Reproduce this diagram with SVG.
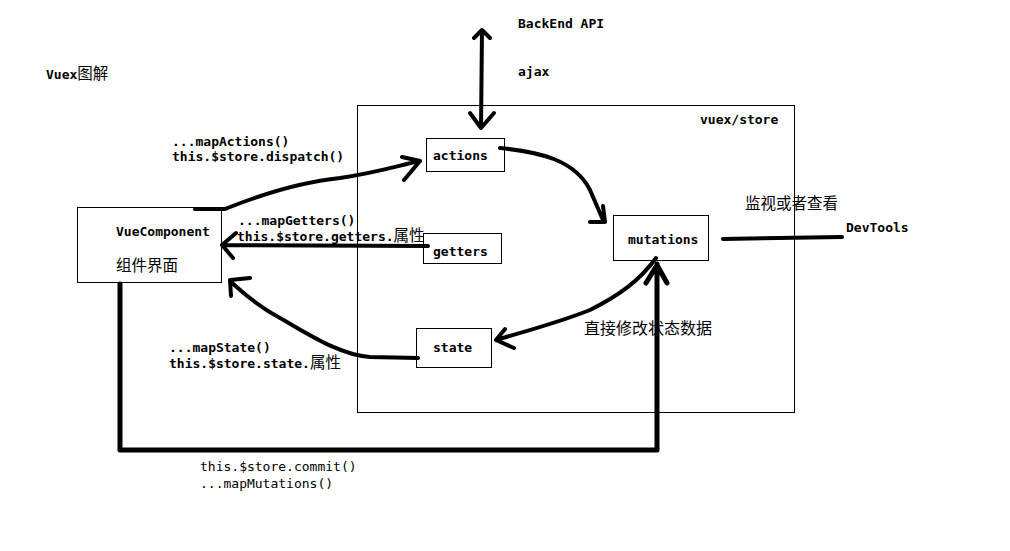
<svg xmlns="http://www.w3.org/2000/svg" width="1010" height="551" viewBox="0 0 1010 551">
<style>
.t{font-family:"DejaVu Sans Mono","Liberation Mono",monospace;font-size:13px;font-weight:bold;fill:#000}
.n{font-family:"DejaVu Sans Mono","Liberation Mono",monospace;font-size:13px;fill:#000}
.c{font-family:"Noto Sans CJK SC","Noto Sans",sans-serif;font-size:15.5px;fill:#000}
.box{fill:#fff;stroke:#000;stroke-width:1}
.ln{fill:none;stroke:#000;stroke-width:4;stroke-linecap:round;stroke-linejoin:round}
.thick{fill:none;stroke:#000;stroke-width:5;stroke-linecap:round;stroke-linejoin:round}
</style>
<rect width="1010" height="551" fill="#fff"/>
<text class="t" x="46" y="79">Vuex<tspan class="c" style="font-weight:normal">图解</tspan></text>
<rect class="box" x="357.500" y="105.500" width="437" height="307"/>
<text class="t" x="700" y="124">vuex/store</text>
<text class="t" x="518" y="28">BackEnd API</text>
<text class="t" x="518" y="76">ajax</text>
<g id="actions"><rect class="box" x="426.500" y="138.500" width="78" height="33"/><text class="t" x="433" y="160">actions</text></g>
<g id="mutations"><rect class="box" x="613.500" y="215.500" width="95" height="45"/><text class="t" x="628" y="244">mutations</text></g>
<g id="getters"><rect class="box" x="423.500" y="233.500" width="78" height="30"/><text class="t" x="433" y="256">getters</text></g>
<g id="state"><rect class="box" x="416.500" y="328.500" width="75" height="39"/><text class="t" x="433" y="352">state</text></g>
<g id="vuecomponent"><rect class="box" x="77.500" y="207.500" width="144" height="75"/><text class="t" x="116" y="236">VueComponent</text><text class="c" x="116" y="271">组件界面</text></g>
<g id="devtools"><text class="t" x="846" y="232">DevTools</text></g>
<g id="connectors">
<path class="ln" d="M482 30 L481 128 M474 38 L482 30 L490 38 M470 113 L481 128 L494 113"/>
<path class="ln" d="M500 148 C540 152 575 160 590 190 L603 220 M590 222 L605 222 L603 206"/>
<path class="ln" d="M723 239 L842 237"/>
<path class="ln" d="M195 209 L225 209 C260 195 300 182 340 178 C380 172 400 165 420 161 M402 157 L420 161 L404 180"/>
<path class="ln" d="M428 246 L222 245 M236 233 L222 245 L233 258"/>
<path class="ln" d="M418 358 L370 357 C340 355 310 335 280 318 C255 305 240 290 230 281 M250 278 L230 280 L231 296"/>
<path class="ln" d="M656 258 C640 280 620 295 590 310 C560 322 530 330 496 340 M505 329 L496 340 L514 348"/>
<path class="thick" d="M120 284 L120 450 L657 450 L657 264 M646 283 L657 265 L667 283"/>
</g>
<text class="t" x="172" y="146">...mapActions()</text>
<text class="t" x="172" y="161">this.$store.dispatch()</text>
<text class="t" x="238" y="225">...mapGetters()</text>
<text class="t" x="237" y="241">this.$store.getters.<tspan class="c" style="font-weight:normal">属性</tspan></text>
<text class="t" x="169" y="352">...mapState()</text>
<text class="t" x="169" y="368">this.$store.state.<tspan class="c" style="font-weight:normal">属性</tspan></text>
<text class="c" x="584" y="334" style="font-size:16px">直接修改状态数据</text>
<text class="c" x="745" y="209">监视或者查看</text>
<text class="n" x="200" y="471">this.$store.commit()</text>
<text class="n" x="200" y="488">...mapMutations()</text>
</svg>
